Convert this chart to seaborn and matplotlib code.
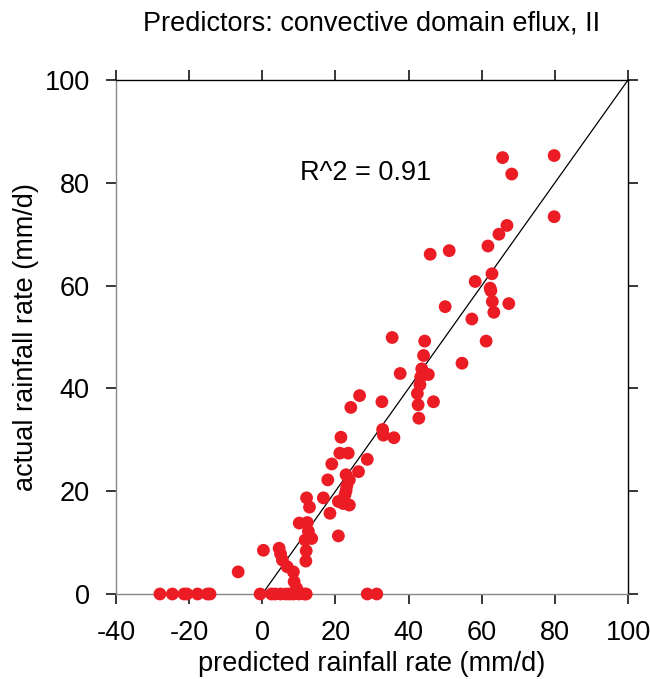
import seaborn as sns
import matplotlib.pyplot as plt
import pandas as pd

# points (predicted vs actual, mm/d)
predicted = [-28.0, -24.6, -21.4, -20.6, -17.7, -15.0, -14.3, -0.6, 2.5, 3.5,
             5.0, 6.5, 7.5, 8.5, 10.0, 11.5, 12.0, 28.7, 31.3,
             -6.6, 0.3, 4.6, 5.0, 5.5, 6.8, 8.5, 8.7, 9.4,
             10.1, 12.3, 12.6, 13.5, 11.7, 12.0, 11.9, 12.1, 12.9,
             16.7, 18.5, 17.9, 19.0, 20.8, 20.8, 22.1, 23.8,
             22.9, 23.8, 23.1, 22.9, 22.6, 26.3, 21.2, 23.5, 28.7, 21.5,
             24.2, 26.6, 32.7, 32.9, 33.1, 36.0, 35.5, 37.7,
             42.8, 42.6, 42.4, 43.1, 43.3, 43.6, 45.4, 46.8, 44.1, 44.4,
             45.9, 50.0, 51.1, 54.6, 57.3, 58.2, 61.2, 61.7, 62.3, 62.5,
             62.8, 62.9, 63.3, 64.7, 65.7, 66.9, 67.4, 68.2, 79.8, 79.8]
actual = [0, 0, 0, 0, 0, 0, 0, 0, 0, 0,
          0, 0, 0, 0, 0, 0, 0, 0, 0,
          4.3, 8.5, 8.9, 7.8, 6.6, 5.3, 4.3, 2.4, 1.1,
          13.8, 13.9, 12.2, 10.8, 10.5, 8.4, 6.4, 18.7, 16.9,
          18.7, 15.7, 22.2, 25.3, 11.3, 18.0, 17.6, 17.3,
          23.2, 22.2, 21.0, 20.1, 19.3, 23.8, 27.4, 27.4, 26.2, 30.5,
          36.3, 38.6, 37.4, 32.0, 30.9, 30.4, 49.9, 42.9,
          34.2, 36.8, 39.0, 40.7, 42.2, 43.8, 42.7, 37.4, 46.4, 49.2,
          66.1, 55.9, 66.8, 44.9, 53.5, 60.8, 49.2, 67.7, 59.5, 59.0,
          62.3, 56.9, 54.8, 70.0, 84.9, 71.7, 56.5, 81.7, 85.3, 73.4]

xticks = [-40, -20, 0, 20, 40, 60, 80, 100]
yticks = [0, 20, 40, 60, 80, 100]
r2 = 0.91

df = pd.DataFrame({'predicted': predicted, 'actual': actual})

sns.set_style("ticks")
plt.rcParams['font.family'] = ['Liberation Sans', 'DejaVu Sans']
plt.rcParams['axes.unicode_minus'] = False
plt.rcParams['text.color'] = 'black'
plt.rcParams['axes.labelcolor'] = 'black'

fig = plt.figure(figsize=(6.5, 6.79), dpi=100)
ax = fig.add_axes([0.1785, 0.1252, 0.7877, 0.757])

# 1:1 line
ax.plot([0, 100], [0, 100], color='black', lw=0.9, zorder=2)

sns.scatterplot(x='predicted', y='actual', data=df, ax=ax,
                color='#ec1c24', s=85, edgecolor='none', clip_on=False, zorder=3)

ax.set_xlim(-40, 100)
ax.set_ylim(0, 100)
ax.set_xticks(xticks)
ax.set_yticks(yticks)
ax.tick_params(direction='out', length=7, width=1.1, labelsize=19.5, pad=12,
               top=True, right=True, colors='black')
for name, sp in ax.spines.items():
    sp.set_visible(True)
    sp.set_linewidth(1)
    sp.set_color('#888888' if name in ('left', 'bottom') else 'black')

ax.text(10.3, 82, 'R^2 = %.2f' % r2, fontsize=19.5, va='center', ha='left')
ax.set_xlabel('predicted rainfall rate (mm/d)', fontsize=19.5, labelpad=3)
ax.set_ylabel('actual rainfall rate (mm/d)', fontsize=19.5, labelpad=4)
fig.text(0.571, 0.965, 'Predictors: convective domain eflux, II',
         fontsize=19.5, ha='center', va='center')

fig.savefig('out.png', dpi=100)
